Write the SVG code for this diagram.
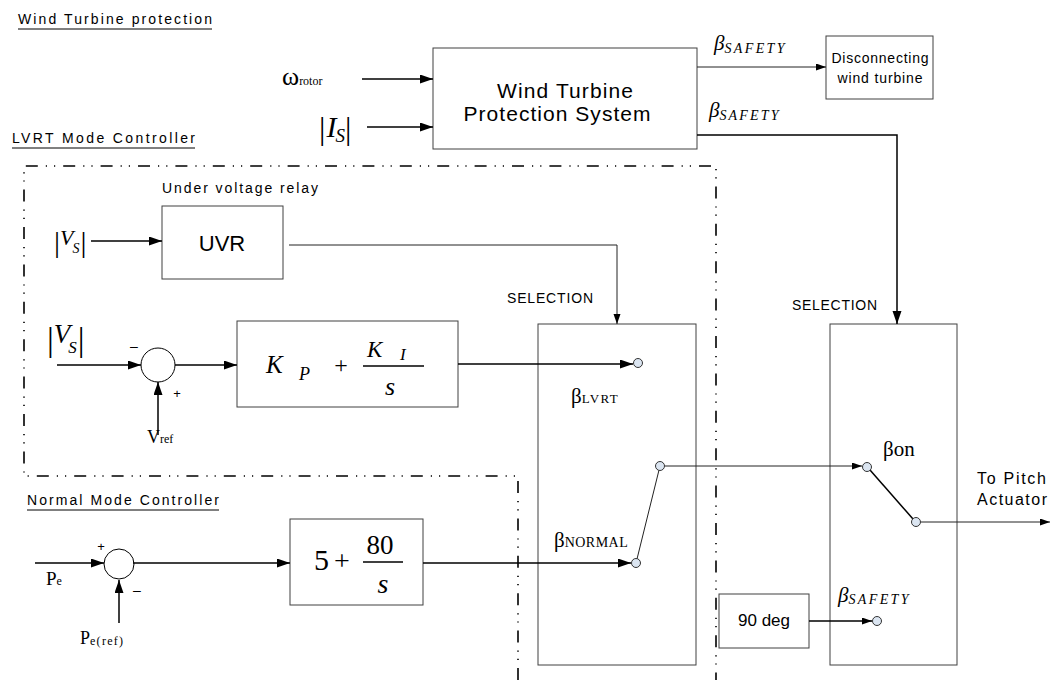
<svg xmlns="http://www.w3.org/2000/svg" width="1052" height="680" viewBox="0 0 1052 680">
<style>
.box{fill:#fff;stroke:#404040;stroke-width:1}
.ln{fill:none;stroke:#000;stroke-width:1.5}
.thin{fill:none;stroke:#222;stroke-width:1}
.sans{font-family:"Liberation Sans",Arial,sans-serif;fill:#000}
.ser{font-family:"Liberation Serif","Times New Roman",serif;fill:#000}
.it{font-style:italic}
.dd{fill:none;stroke:#000;stroke-width:1.6;stroke-dasharray:12 8 1.2 7 1.2 8}
.ct{fill:#dbe5f1;stroke:#333;stroke-width:1}
.sum{fill:#fff;stroke:#000;stroke-width:1}
.ul{stroke:#000;stroke-width:1}
</style>
<defs>
<marker id="ah" markerUnits="userSpaceOnUse" markerWidth="14" markerHeight="10" refX="13" refY="4.5" orient="auto">
<path d="M0,0 L13,4.5 L0,9 z" fill="#000"/>
</marker>
<marker id="as" markerUnits="userSpaceOnUse" markerWidth="11" markerHeight="8" refX="10" refY="3.5" orient="auto">
<path d="M0,0 L10,3.5 L0,7 z" fill="#000"/>
</marker>
</defs>
<rect width="1052" height="680" fill="#fff"/>

<g id="titles">
<text class="sans" x="18" y="24" font-size="14" textLength="194" lengthAdjust="spacing">Wind Turbine protection</text>
<line class="ul" x1="18" y1="29" x2="212" y2="29"/>
<text class="sans" x="12" y="143" font-size="14" textLength="183" lengthAdjust="spacing">LVRT Mode Controller</text>
<line class="ul" x1="12" y1="148" x2="195" y2="148"/>
<text class="sans" x="27" y="505" font-size="14" textLength="192" lengthAdjust="spacing">Normal Mode Controller</text>
<line class="ul" x1="27" y1="510" x2="219" y2="510"/>
</g>

<g id="boundaries">
<path class="dd" d="M518,680 L518,476 L24,476 L24,166 L716,166 L716,680"/>
</g>

<g id="protection-system">
<rect class="box" x="433" y="48" width="264" height="101"/>
<text class="sans" x="565" y="98" font-size="21" text-anchor="middle" textLength="136" lengthAdjust="spacing">Wind Turbine</text>
<text class="sans" x="557" y="121" font-size="21" text-anchor="middle" textLength="187" lengthAdjust="spacing">Protection System</text>
</g>

<g id="disconnecting">
<rect class="box" x="826" y="36" width="107" height="63"/>
<text class="sans" x="880" y="63" font-size="14" text-anchor="middle" textLength="97" lengthAdjust="spacing">Disconnecting</text>
<text class="sans" x="880" y="83" font-size="14" text-anchor="middle" textLength="85" lengthAdjust="spacing">wind turbine</text>
</g>

<g id="input-omega">
<text class="ser" x="282" y="85" font-size="26">ω<tspan font-size="12">rotor</tspan></text>
</g>
<g id="input-is">
<text class="ser" x="319" y="139" font-size="32">|<tspan class="it" font-size="30" dx="1" dy="-2">I</tspan><tspan class="it" font-size="19" dx="-1" dy="5">S</tspan><tspan font-size="32" dy="-3">|</tspan></text>
</g>

<g id="beta-safety-labels">
<text class="ser it" x="714" y="50" font-size="21">β<tspan font-size="14" dy="3" textLength="60" lengthAdjust="spacing">SAFETY</tspan></text>
<text class="ser it" x="709" y="117" font-size="21">β<tspan font-size="14" dy="3" textLength="59" lengthAdjust="spacing">SAFETY</tspan></text>
</g>

<g id="uvr">
<text class="sans" x="162" y="193" font-size="14" textLength="156" lengthAdjust="spacing">Under voltage relay</text>
<rect class="box" x="162" y="206" width="121" height="73"/>
<text class="sans" x="222" y="251" font-size="22" text-anchor="middle">UVR</text>
</g>
<g id="input-vs1">
<text class="ser" x="54" y="252" font-size="30">|<tspan class="it" font-size="22" dy="-7">V</tspan><tspan class="it" font-size="14" dx="-1" dy="8">S</tspan><tspan font-size="30" dx="1" dy="-1">|</tspan></text>
</g>

<g id="input-vs2">
<text class="ser" x="47" y="351" font-size="34">|<tspan class="it" font-size="27" dy="-8">V</tspan><tspan class="it" font-size="17" dx="-2" dy="10">S</tspan><tspan font-size="34" dx="1" dy="-2">|</tspan></text>
</g>
<g id="sum-lvrt">
<circle class="sum" cx="158" cy="365" r="17"/>
<text class="sans" x="134" y="351" font-size="14" text-anchor="middle">–</text>
<text class="sans" x="177" y="398" font-size="13" text-anchor="middle">+</text>
<text class="ser" x="147" y="443" font-size="18">V<tspan font-size="12">ref</tspan></text>
</g>

<g id="pi-controller">
<rect class="box" x="237" y="321" width="221" height="86"/>
<text class="ser it" x="266" y="373" font-size="25">K</text>
<text class="ser it" x="299" y="380" font-size="18">P</text>
<text class="ser" x="341" y="373" font-size="24" text-anchor="middle">+</text>
<line x1="363" y1="366" x2="424" y2="366" stroke="#000" stroke-width="1.3"/>
<text class="ser it" x="367" y="357" font-size="23">K</text>
<text class="ser it" x="400" y="360" font-size="17">I</text>
<text class="ser it" x="390" y="395" font-size="26" text-anchor="middle">s</text>
</g>

<g id="selection-lvrt">
<text class="sans" x="507" y="303" font-size="14" textLength="86" lengthAdjust="spacing">SELECTION</text>
<rect class="box" x="538" y="324" width="158" height="341"/>
<text class="ser" x="571" y="403" font-size="21">β<tspan font-size="13" textLength="36" lengthAdjust="spacing">LVRT</tspan></text>
<text class="ser" x="554" y="547" font-size="21">β<tspan font-size="14" textLength="63" lengthAdjust="spacing">NORMAL</tspan></text>
</g>

<g id="input-pe">
<circle class="sum" cx="119" cy="564" r="15"/>
<text class="sans" x="101" y="551" font-size="13" text-anchor="middle">+</text>
<text class="sans" x="137" y="595" font-size="14" text-anchor="middle">–</text>
<text class="ser" x="46" y="585" font-size="19">P<tspan font-size="12">e</tspan></text>
<text class="ser" x="80" y="644" font-size="18">P<tspan font-size="12" dy="1" textLength="33" lengthAdjust="spacing">e(ref)</tspan></text>
</g>

<g id="normal-controller">
<rect class="box" x="290" y="519" width="133" height="86"/>
<text class="ser" x="314" y="570" font-size="30">5</text>
<text class="ser" x="342" y="570" font-size="28" text-anchor="middle">+</text>
<text class="ser" x="380" y="554" font-size="27" text-anchor="middle">80</text>
<line x1="363" y1="562" x2="403" y2="562" stroke="#000" stroke-width="1.3"/>
<text class="ser it" x="383" y="593" font-size="28" text-anchor="middle">s</text>
</g>

<g id="selection-final">
<text class="sans" x="792" y="310" font-size="14" textLength="85" lengthAdjust="spacing">SELECTION</text>
<rect class="box" x="830" y="324" width="127" height="341"/>
<text class="ser" x="883" y="456" font-size="21">βon</text>
<text class="ser it" x="838" y="602" font-size="21">β<tspan font-size="14" dy="2" textLength="60" lengthAdjust="spacing">SAFETY</tspan></text>
</g>

<g id="ninety-deg">
<rect class="box" x="719" y="594" width="90" height="54"/>
<text class="sans" x="764" y="626" font-size="17" text-anchor="middle">90 deg</text>
</g>

<g id="output-label">
<text class="sans" x="977" y="484" font-size="16" textLength="69" lengthAdjust="spacing">To Pitch</text>
<text class="sans" x="977" y="505" font-size="16" textLength="70" lengthAdjust="spacing">Actuator</text>
</g>

<g id="connectors">
<line class="ln" x1="362" y1="79" x2="433" y2="79" marker-end="url(#ah)"/>
<line class="ln" x1="367" y1="127" x2="433" y2="127" marker-end="url(#ah)"/>
<line class="thin" x1="697" y1="67" x2="826" y2="67" marker-end="url(#as)"/>
<path class="ln" d="M697,135 L897,135 L897,324" stroke-width="2" marker-end="url(#ah)"/>
<line class="ln" x1="91" y1="241" x2="162" y2="241" marker-end="url(#ah)"/>
<path class="thin" d="M289,245 L617,245 L617,324" marker-end="url(#as)"/>
<line class="ln" x1="57" y1="365" x2="141" y2="365" marker-end="url(#ah)"/>
<line class="ln" x1="158" y1="435" x2="158" y2="382" marker-end="url(#ah)"/>
<line class="ln" x1="175" y1="365" x2="237" y2="365" marker-end="url(#ah)"/>
<line class="ln" x1="458" y1="364" x2="633" y2="364" marker-end="url(#ah)"/>
<line class="thin" x1="659" y1="470" x2="637" y2="559"/>
<line class="thin" x1="665" y1="466" x2="862" y2="466" marker-end="url(#as)"/>
<line class="ln" x1="35" y1="563" x2="104" y2="563" marker-end="url(#ah)"/>
<line class="ln" x1="119" y1="623" x2="119" y2="580" marker-end="url(#ah)"/>
<line class="ln" x1="133" y1="563" x2="290" y2="563" marker-end="url(#ah)"/>
<line class="ln" x1="423" y1="563" x2="631" y2="563" marker-end="url(#ah)"/>
<line class="ln" x1="870" y1="470" x2="913" y2="519" stroke-width="1.3"/>
<line class="thin" x1="921" y1="522" x2="1050" y2="522" marker-end="url(#as)"/>
<line class="ln" x1="809" y1="621" x2="872" y2="621" marker-end="url(#as)"/>
<circle class="ct" cx="638" cy="363" r="4.5"/>
<circle class="ct" cx="660" cy="466" r="4.5"/>
<circle class="ct" cx="636" cy="563" r="4.5"/>
<circle class="ct" cx="867" cy="467" r="4.5"/>
<circle class="ct" cx="916" cy="522" r="4.5"/>
<circle class="ct" cx="877" cy="621" r="4.5"/>
</g>
</svg>
